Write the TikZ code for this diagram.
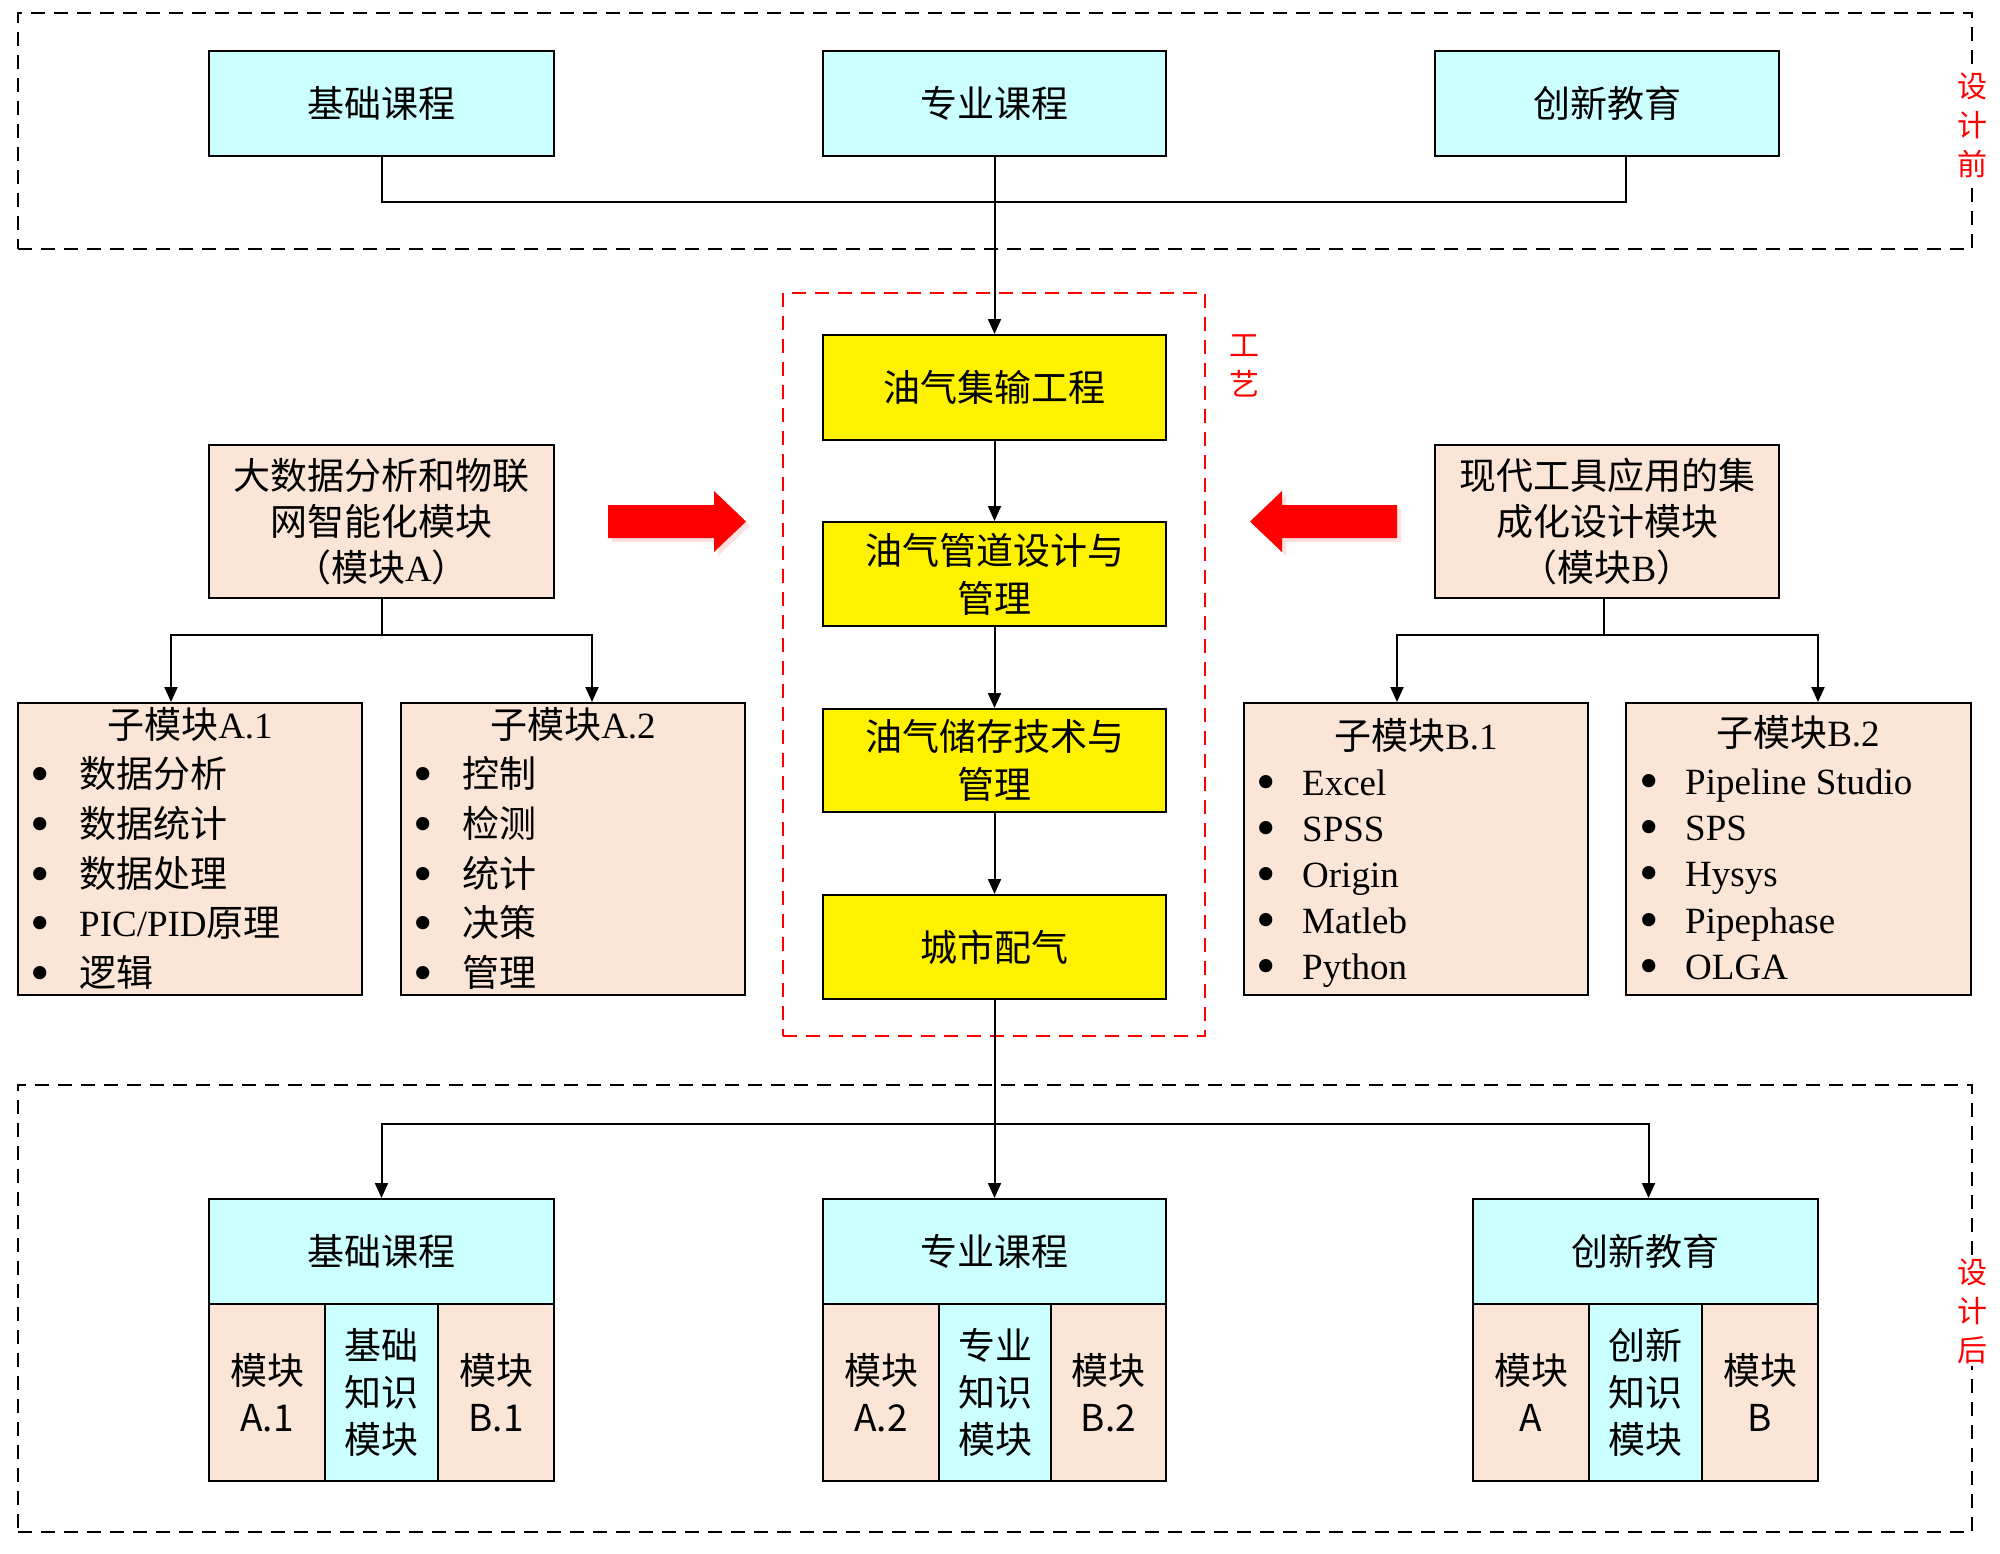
\documentclass[tikz,border=0pt]{standalone}
\usepackage{fontspec}
\usepackage{graphicx}
\setmainfont{Liberation Serif}
\newfontfamily\cjk{Noto Sans CJK SC}
\usetikzlibrary{arrows.meta}
\definecolor{cyanbox}{HTML}{CCFFFF}
\definecolor{peach}{HTML}{FBE5D6}
\definecolor{lblred}{HTML}{FF0000}
\newcommand{\bigdot}{\smash{\raisebox{-5.5pt}{\scalebox{1.5}{•}}}}
\newcommand{\mybulA}[1]{\makebox[49pt][l]{\bigdot}#1}
\newcommand{\mybulB}[1]{\makebox[46pt][l]{\bigdot}#1}
\begin{document}
\begin{tikzpicture}[x=1pt,y=-1pt,
  box/.style={draw=black, line width=2pt, inner sep=0pt, align=center},
  cbox/.style={box, fill=cyanbox, font=\cjk\fontsize{37}{47}\selectfont},
  ybox/.style={box, fill=yellow, font=\cjk\fontsize{37}{48}\selectfont},
  pbox/.style={box, fill=peach, font=\cjk\fontsize{37}{46}\selectfont},
  cell/.style={box, minimum height=177pt, font=\cjk\fontsize{37}{47}\selectfont},
  conn/.style={line width=2pt},
  arr/.style={conn, -{Triangle[length=15pt,width=13pt]}},
  frame/.style={draw, dash pattern=on 14pt off 9pt, line width=2pt, inner sep=0pt},
  lbl/.style={text=lblred, font=\cjk\fontsize{30}{39}\selectfont, align=center, inner sep=2pt},
  item/.style={anchor=base west, inner sep=0pt, font=\fontsize{37}{46}\selectfont},
  ttl/.style={anchor=base, inner sep=0pt, font=\fontsize{37}{46}\selectfont},
  bigarrow/.style={fill=red, draw=none}
]
\fill[white] (0,0) rectangle (2000,1553);
\useasboundingbox (0,0) rectangle (2000,1553);

% frames
\node[frame, minimum width=1954pt, minimum height=236pt] (ftop) at (995,131) {};
\node[frame, draw=red, minimum width=422pt, minimum height=743pt] (fmid) at (994,664.5) {};
\node[frame, minimum width=1954pt, minimum height=447pt] (fbot) at (995,1308.5) {};
\node[lbl, fill=white] (lpre) at (1972,125) {设\\计\\前};
\node[lbl, fill=white] (lpost) at (1972,1311) {设\\计\\后};
\node[lbl] (lgy) at (1244,366) {工\\艺};

% top boxes
\node[cbox, minimum width=345pt, minimum height=105pt] (t1) at (381.5,103.5) {基础课程};
\node[cbox, minimum width=343pt, minimum height=105pt] (t2) at (994.5,103.5) {专业课程};
\node[cbox, minimum width=344pt, minimum height=105pt] (t3) at (1607,103.5) {创新教育};

% yellow chain
\node[ybox, minimum width=343pt, minimum height=105pt] (y1) at (994.5,387.5) {油气集输工程};
\node[ybox, minimum width=343pt, minimum height=104pt] (y2) at (994.5,574) {油气管道设计与\\管理};
\node[ybox, minimum width=343pt, minimum height=103pt] (y3) at (994.5,760.5) {油气储存技术与\\管理};
\node[ybox, minimum width=343pt, minimum height=104pt] (y4) at (994.5,947) {城市配气};

% module boxes
\node[pbox, minimum width=345pt, minimum height=153pt] (mA) at (381.5,521.5) {大数据分析和物联\\网智能化模块\\（模块{\rmfamily A}）};
\node[pbox, minimum width=344pt, minimum height=153pt] (mB) at (1607,521.5) {现代工具应用的集\\成化设计模块\\（模块{\rmfamily B}）};

% sub boxes
\node[pbox, minimum width=344pt, minimum height=292pt] (sA1) at (190,849) {};
\node[pbox, minimum width=344pt, minimum height=292pt] (sA2) at (573,849) {};
\node[pbox, minimum width=344pt, minimum height=292pt] (sB1) at (1416,849) {};
\node[pbox, minimum width=345pt, minimum height=292pt] (sB2) at (1798.5,849) {};

\node[ttl] (sA1t) at (190,738) {{\cjk 子模块}A.1};
\node[item] (a11) at (30,787) {\mybulA{{\cjk 数据分析}}};
\node[item] (a12) at (30,837) {\mybulA{{\cjk 数据统计}}};
\node[item] (a13) at (30,887) {\mybulA{{\cjk 数据处理}}};
\node[item] (a14) at (30,936) {\mybulA{PIC/PID{\cjk 原理}}};
\node[item] (a15) at (30,986) {\mybulA{{\cjk 逻辑}}};

\node[ttl] (sA2t) at (573,738) {{\cjk 子模块}A.2};
\node[item] (a21) at (413,787) {\mybulA{{\cjk 控制}}};
\node[item] (a22) at (413,837) {\mybulA{{\cjk 检测}}};
\node[item] (a23) at (413,887) {\mybulA{{\cjk 统计}}};
\node[item] (a24) at (413,936) {\mybulA{{\cjk 决策}}};
\node[item] (a25) at (413,986) {\mybulA{{\cjk 管理}}};

\node[ttl] (sB1t) at (1416,749) {{\cjk 子模块}B.1};
\node[item] (b11) at (1256,795) {\mybulB{Excel}};
\node[item] (b12) at (1256,841) {\mybulB{SPSS}};
\node[item] (b13) at (1256,887) {\mybulB{Origin}};
\node[item] (b14) at (1256,933) {\mybulB{Matleb}};
\node[item] (b15) at (1256,979) {\mybulB{Python}};

\node[ttl] (sB2t) at (1798,746) {{\cjk 子模块}B.2};
\node[item] (b21) at (1639,794) {\mybulB{Pipeline Studio}};
\node[item] (b22) at (1639,840) {\mybulB{SPS}};
\node[item] (b23) at (1639,886) {\mybulB{Hysys}};
\node[item] (b24) at (1639,933) {\mybulB{Pipephase}};
\node[item] (b25) at (1639,979) {\mybulB{OLGA}};

% bottom composite boxes
\node[cbox, minimum width=345pt, minimum height=105pt] (bt1) at (381.5,1251.5) {基础课程};
\node[cbox, minimum width=343pt, minimum height=105pt] (bt2) at (994.5,1251.5) {专业课程};
\node[cbox, minimum width=345pt, minimum height=105pt] (bt3) at (1645.5,1251.5) {创新教育};

\node[cell, fill=peach, minimum width=116pt] (c11) at (267,1392.5) {模块\\A.1};
\node[cell, fill=cyanbox, minimum width=113pt] (c12) at (381.5,1392.5) {基础\\知识\\模块};
\node[cell, fill=peach, minimum width=116pt] (c13) at (496,1392.5) {模块\\B.1};

\node[cell, fill=peach, minimum width=116pt] (c21) at (881,1392.5) {模块\\A.2};
\node[cell, fill=cyanbox, minimum width=112pt] (c22) at (995,1392.5) {专业\\知识\\模块};
\node[cell, fill=peach, minimum width=115pt] (c23) at (1108.5,1392.5) {模块\\B.2};

\node[cell, fill=peach, minimum width=116pt] (c31) at (1531,1392.5) {模块\\A};
\node[cell, fill=cyanbox, minimum width=113pt] (c32) at (1645.5,1392.5) {创新\\知识\\模块};
\node[cell, fill=peach, minimum width=116pt] (c33) at (1760,1392.5) {模块\\B};

% red block arrows
\fill[red!12] (612,509) -- (718,509) -- (718,495) -- (750,525.5) -- (718,556) -- (718,542) -- (612,542) -- cycle;
\fill[bigarrow] (608,505) -- (714,505) -- (714,491) -- (746,521.5) -- (714,552) -- (714,538) -- (608,538) -- cycle;
\fill[red!12] (1401,509) -- (1286,509) -- (1286,495) -- (1254,525.5) -- (1286,556) -- (1286,542) -- (1401,542) -- cycle;
\fill[bigarrow] (1397,505) -- (1282,505) -- (1282,491) -- (1250,521.5) -- (1282,552) -- (1282,538) -- (1397,538) -- cycle;

% connectors: top
\coordinate (jt) at (994.5,202);
\draw[conn] (t1.south) |- (jt);
\draw[conn] (jt) -| ([xshift=19pt]t3.south);
\draw[arr] (t2.south) -- (y1.north);
\draw[arr] (y1.south) -- (y2.north);
\draw[arr] (y2.south) -- (y3.north);
\draw[arr] (y3.south) -- (y4.north);

% connectors: bottom
\coordinate (jb) at (994.5,1124);
\draw[conn] (y4.south) -- (jb);
\draw[arr] (jb) -- (bt2.north);
\draw[arr] (jb) -| (bt1.north);
\draw[arr] (jb) -| ([xshift=3pt]bt3.north);

% module A / B
\coordinate (ja) at (381.5,635);
\draw[conn] (mA.south) -- (ja);
\draw[arr] (ja) -| ([xshift=-19pt]sA1.north);
\draw[arr] (ja) -| ([xshift=19pt]sA2.north);
\coordinate (jbb) at (1603.5,635);
\draw[conn] (mB.south -| jbb) -- (jbb);
\draw[arr] (jbb) -| ([xshift=-19pt]sB1.north);
\draw[arr] (jbb) -| ([xshift=19.5pt]sB2.north);
\end{tikzpicture}
\end{document}
